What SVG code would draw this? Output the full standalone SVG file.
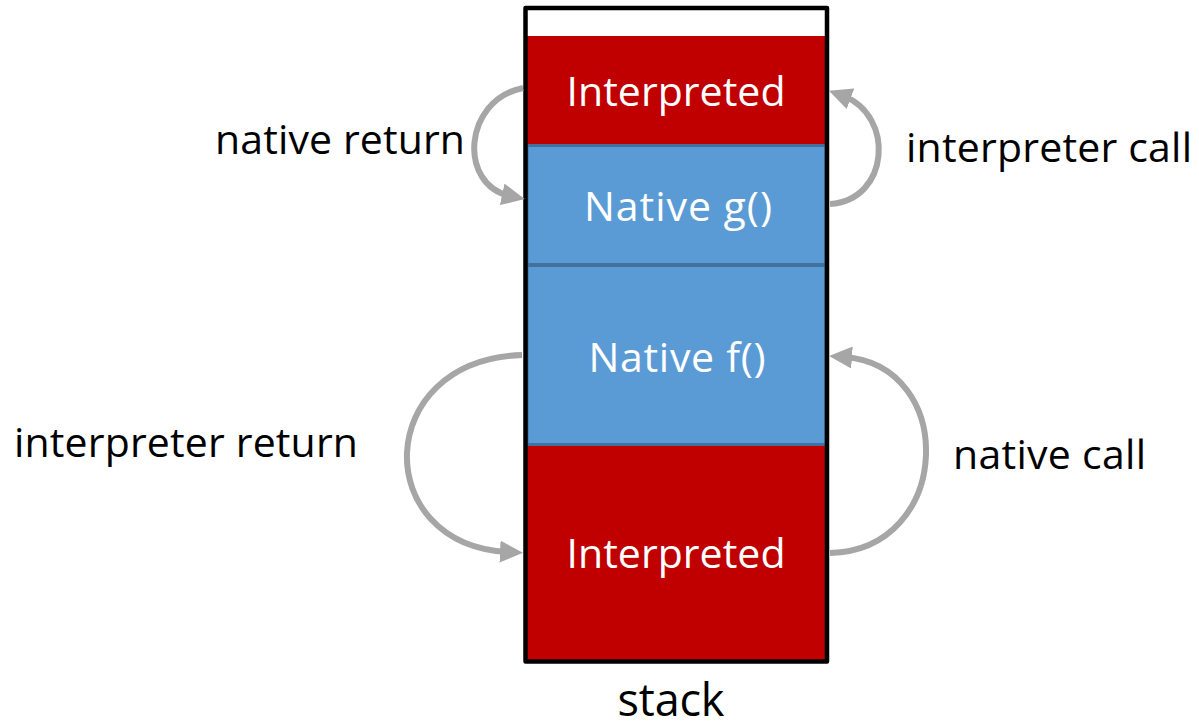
<svg xmlns="http://www.w3.org/2000/svg" width="1199" height="728" viewBox="0 0 1199 728">
  <style>
    .frame-label { font-family: "Open Sans", "Noto Sans", "Liberation Sans", sans-serif; font-size: 41px; fill: #ffffff; text-anchor: middle; }
    .edge-label { font-family: "Open Sans", "Noto Sans", "Liberation Sans", sans-serif; font-size: 41px; fill: #000000; }
    .red { fill: #c00000; }
    .blue { fill: #5b9bd5; stroke: #41719c; stroke-width: 3; }
    .flow { fill: none; stroke: #a6a6a6; stroke-width: 6; marker-end: url(#head); }
  </style>
  <defs>
    <marker id="head" markerUnits="userSpaceOnUse" markerWidth="24" markerHeight="22" refX="8" refY="11" orient="auto">
      <path d="M0,0 L23,11 L0,22 z" fill="#a6a6a6"/>
    </marker>
  </defs>
  <rect width="1199" height="728" fill="#ffffff"/>

  <!-- stack frames, top to bottom -->
  <g id="frame-interpreted-top">
    <rect class="red" x="527" y="36" width="299" height="109"/>
    <text class="frame-label" x="676" y="106" textLength="219">Interpreted</text>
  </g>
  <g id="frame-native-g">
    <rect class="blue" x="527" y="145.5" width="299" height="119"/>
    <text class="frame-label" x="678" y="221" textLength="188">Native g()</text>
  </g>
  <g id="frame-native-f">
    <rect class="blue" x="527" y="265.5" width="299" height="179"/>
    <text class="frame-label" x="677" y="372" textLength="177">Native f()</text>
  </g>
  <g id="frame-interpreted-bottom">
    <rect class="red" x="527" y="446" width="299" height="214"/>
    <text class="frame-label" x="676" y="568" textLength="219">Interpreted</text>
  </g>

  <!-- stack outline -->
  <g id="stack">
    <rect x="525.5" y="8" width="301.5" height="653.5" fill="none" stroke="#000000" stroke-width="4.5" stroke-linejoin="round"/>
    <text class="edge-label" x="671" y="716" text-anchor="middle" textLength="107" style="font-size:45px">stack</text>
  </g>

  <!-- transitions between frames -->
  <g id="connectors">
    <path class="flow" d="M 523 88 C 463 100, 458 185, 510 196"/>
    <path class="flow" d="M 830 204 C 890 200, 895 115, 843 96"/>
    <path class="flow" d="M 522 355 C 372 360, 370 545, 508 552"/>
    <path class="flow" d="M 830 553 C 953 550, 958 365, 844 357"/>
  </g>

  <g id="labels">
    <text class="edge-label" x="215" y="154" textLength="250">native return</text>
    <text class="edge-label" x="906" y="162" textLength="286">interpreter call</text>
    <text class="edge-label" x="14" y="457" textLength="344">interpreter return</text>
    <text class="edge-label" x="953" y="469" textLength="193">native call</text>
  </g>
</svg>
